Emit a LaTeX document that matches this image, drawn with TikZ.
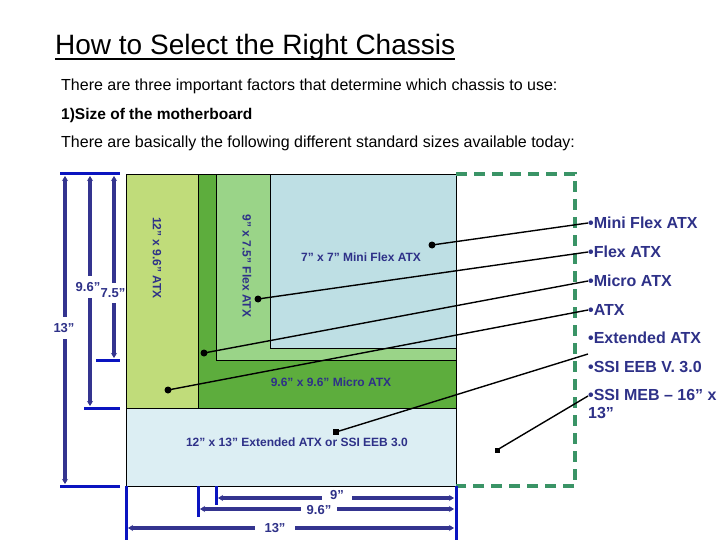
\documentclass[tikz,border=0pt]{standalone}
\usepackage{fontspec}
\setmainfont{Liberation Sans}
\usetikzlibrary{arrows.meta}
\definecolor{atxc}{HTML}{C0DC7A}
\definecolor{microc}{HTML}{5DAD3D}
\definecolor{flexc}{HTML}{9AD488}
\definecolor{minic}{HTML}{BEDFE4}
\definecolor{extc}{HTML}{DCEEF3}
\definecolor{navy}{HTML}{2E3188}
\definecolor{dimc}{HTML}{34348F}
\definecolor{bblue}{HTML}{0A14C0}
\definecolor{dashg}{HTML}{3A9466}
\tikzset{
  board/.style={draw=black, line width=0.8pt},
  boardlabel/.style={text=navy, font=\fontsize{12}{14}\selectfont\bfseries, inner sep=0pt},
  dimlabel/.style={text=navy, font=\fontsize{13}{15}\selectfont\bfseries, fill=white, inner sep=1pt},
  dimline/.style={draw=dimc, line width=3.6pt, {Stealth[length=5pt,width=6pt]}-{Stealth[length=5pt,width=6pt]}},
  bar/.style={draw=bblue, line width=3pt},
  bullet/.style={text=navy, font=\fontsize{16}{18}\selectfont\bfseries, inner sep=0pt, anchor=west, align=left},
  dotc/.style={circle, fill=black, inner sep=0pt, minimum size=7pt},
  dots/.style={rectangle, fill=black, inner sep=0pt, minimum size=6pt},
  conn/.style={draw=black, line width=1.4pt},
  bodytext/.style={anchor=base west, inner sep=0pt, font=\fontsize{16}{18}\selectfont}
}
\begin{document}
\begin{tikzpicture}[x=1pt,y=-1pt]
\useasboundingbox[fill=white] (0,0) rectangle (720,540);
% title and text
\node[anchor=base west, inner sep=0pt, font=\fontsize{28}{32}\selectfont] (title) at (55,55) {How to Select the Right Chassis};
\draw[line width=1.6pt] ([yshift=-4pt]title.base west) -- ([yshift=-4pt]title.base east);
\node[bodytext] (t1) at (61,91) {There are three important factors that determine which chassis to use:};
\node[bodytext, font=\fontsize{15.5}{17}\selectfont\bfseries] (t2) at (61,120) {1)Size of the motherboard};
\node[bodytext] (t3) at (61,148) {There are basically the following different standard sizes available today:};
% boards
\path[board, fill=extc] (126,174) rectangle (456,486);
\path[board, fill=atxc] (126,174) rectangle (456,408);
\path[board, fill=microc] (198,174) rectangle (456,408);
\path[board, fill=flexc] (216,174) rectangle (456,360);
\path[board, fill=minic] (270,174) rectangle (456,348);
% dashed chassis
\draw[dashg, line width=3.6pt, dash pattern=on 11pt off 7pt] (456,174) -- (575,174) -- (575,486) -- (456,486);
% board labels
\node[boardlabel] (lmini) at (361,257) {7” x 7” Mini Flex ATX};
\node[boardlabel] (lmicro) at (331,382) {9.6” x 9.6” Micro ATX};
\node[boardlabel] (lext) at (297,442) {12” x 13” Extended ATX or SSI EEB 3.0};
\node[boardlabel, rotate=-90] (latx) at (157,258) {12” x 9.6” ATX};
\node[boardlabel, rotate=-90] (lflex) at (247,266) {9” x 7.5” Flex ATX};
% left dimensions
\draw[bar] (60,174) -- (120,174);
\draw[bar] (96,360) -- (120,360);
\draw[bar] (84,408) -- (120,408);
\draw[bar] (60,486) -- (120,486);
\coordinate (v13t) at (65,176); \coordinate (v13b) at (65,484);
\coordinate (v96t) at (90,176); \coordinate (v96b) at (90,406);
\coordinate (v75t) at (114,176); \coordinate (v75b) at (114,358);
\draw[dimline] (v13t) -- (v13b);
\draw[dimline] (v96t) -- (v96b);
\draw[dimline] (v75t) -- (v75b);
\node[dimlabel, inner ysep=6pt] (d13) at (64,328) {13”};
\node[dimlabel, inner ysep=6pt] (d96) at (88,287) {9.6”};
\node[dimlabel, inner ysep=5pt, inner xsep=0pt] (d75) at (113,293) {7.5”};
% bottom dimensions
\draw[bar] (126,486) -- (126,540);
\draw[bar] (198,486) -- (198,517);
\draw[bar] (216,486) -- (216,505);
\draw[bar] (456,486) -- (456,540);
\coordinate (h9l) at (218,498); \coordinate (h9r) at (454,498);
\coordinate (h96l) at (200,509); \coordinate (h96r) at (454,509);
\coordinate (h13l) at (128,528); \coordinate (h13r) at (454,528);
\draw[dimline] (h9l) -- (h9r);
\draw[dimline] (h96l) -- (h96r);
\draw[dimline] (h13l) -- (h13r);
\node[dimlabel, inner xsep=8pt, inner ysep=0pt] (b9) at (337,495) {9”};
\node[dimlabel, inner xsep=6pt, inner ysep=0pt] (b96) at (319,510) {9.6”};
\node[dimlabel, inner xsep=10pt] (b13) at (275,528) {13”};
% bullet labels
\node[bullet] (r1) at (588,223) {•Mini Flex ATX};
\node[bullet] (r2) at (588,252) {•Flex ATX};
\node[bullet] (r3) at (588,281) {•Micro ATX};
\node[bullet] (r4) at (588,310) {•ATX};
\node[bullet] (r5) at (588,338) {•Extended ATX};
\node[bullet] (r6) at (588,367) {•SSI EEB V. 3.0};
\node[bullet, anchor=north west] (r7) at (588,389) {•SSI MEB – 16” x\\13”};
\coordinate (r5end) at (588,354);
\coordinate (r7end) at (588,396);
% dots and connectors
\node[dotc] (p1) at (432,245) {};
\node[dotc] (p2) at (258,299) {};
\node[dotc] (p3) at (204,353) {};
\node[dotc] (p4) at (168,390) {};
\node[dots] (p5) at (336,432) {};
\node[dots, minimum size=5pt] (p6) at (497,450) {};
\draw[conn] (p1.center) -- (r1.west);
\draw[conn] (p2.center) -- (r2.west);
\draw[conn] (p3.center) -- (r3.west);
\draw[conn] (p4.center) -- (r4.west);
\draw[conn] (p5.center) -- (r5end);
\draw[conn] (p6.center) -- (r7end);
\end{tikzpicture}
\end{document}
